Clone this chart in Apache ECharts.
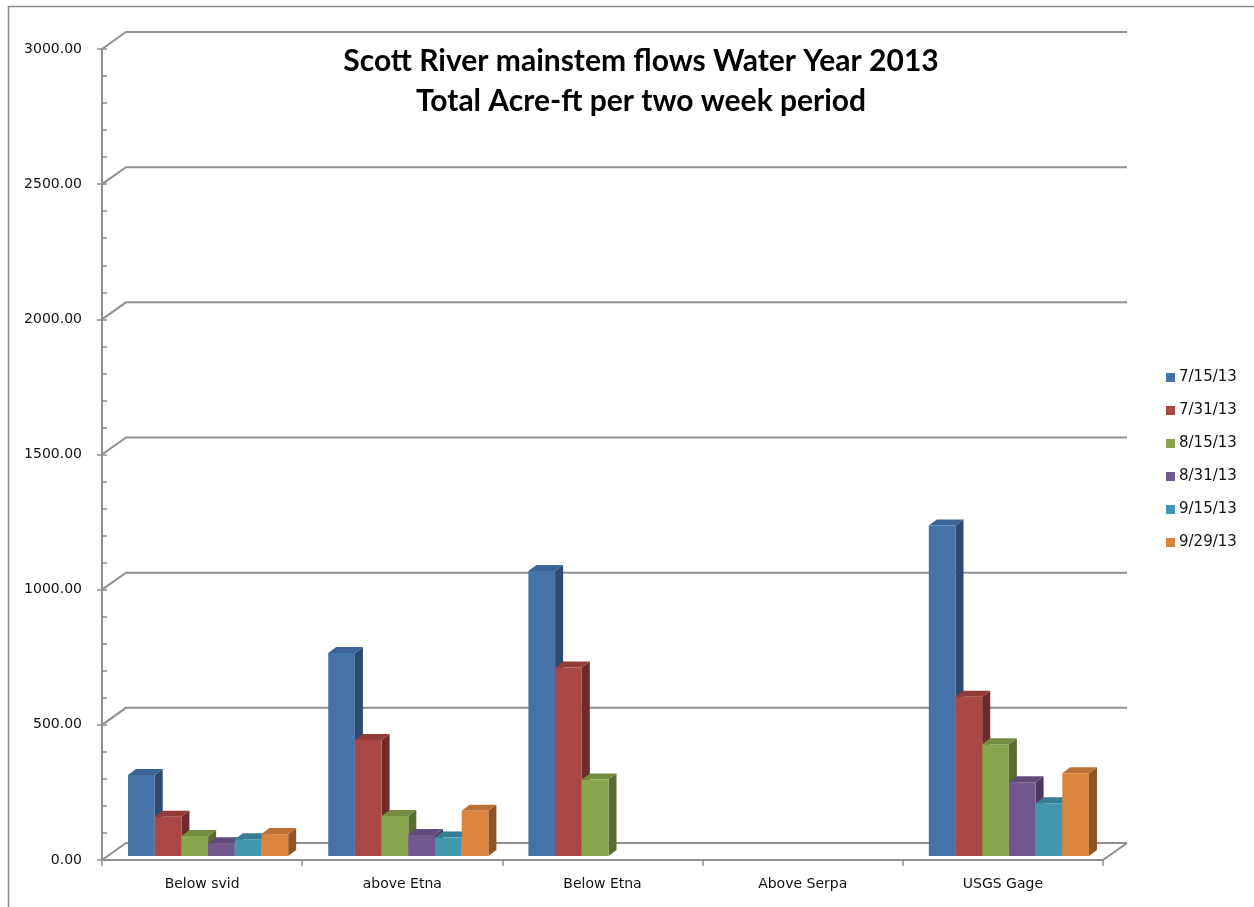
<!DOCTYPE html>
<html>
<head>
<meta charset="utf-8">
<title>Scott River mainstem flows Water Year 2013</title>
<script src="https://cdn.jsdelivr.net/npm/echarts@6/dist/echarts.min.js"></script>
<style>
  html, body { margin: 0; padding: 0; background: #ffffff; }
  #chart { width: 1254px; height: 907px; }
</style>
</head>
<body>
<div id="chart"></div>
<script>
// Monitoring sites along the mainstem
const categories = ['Below svid', 'above Etna', 'Below Etna', 'Above Serpa', 'USGS Gage'];
// Two-week period end dates
const periods = ['7/15/13', '7/31/13', '8/15/13', '8/31/13', '9/15/13', '9/29/13'];

// Total acre-feet per site for each period (null = no record)
const flow_0715 = [300, 751, 1054, null, 1223];
const flow_0731 = [145, 429, 697, null, 589];
const flow_0815 = [74, 148, 283, null, 413];
const flow_0831 = [47, 78, null, null, 273];
const flow_0915 = [62, 68, null, null, 195];
const flow_0929 = [81, 167, null, null, 306];

// Value axis ticks
const yTicks = [0, 500, 1000, 1500, 2000, 2500, 3000];

const seriesValues = [flow_0715, flow_0731, flow_0815, flow_0831, flow_0915, flow_0929];

// Face colours: front, side, top
const palette = [
  { front: '#4572A7', side: '#2E4A70', top: '#3B6395' },
  { front: '#AA4643', side: '#6D2B2A', top: '#943C39' },
  { front: '#89A54E', side: '#586B31', top: '#738C41' },
  { front: '#71588F', side: '#4A395E', top: '#5F4A7A' },
  { front: '#4198AF', side: '#296272', top: '#367F93' },
  { front: '#DB843D', side: '#8E5527', top: '#BC7033' }
];

// 3D look: wall depth, bar plane offset, bar depth
const WALL_DX = 24, WALL_DY = -17;
const PLANE_DX = 6, PLANE_DY = -4;
const BAR_DX = 8, BAR_DY = -6;

function barRenderer(sIdx) {
  return function (params, api) {
    const cat = api.value(0);
    const v = api.value(1);
    if (v == null || isNaN(v)) return;
    const base = api.coord([cat, 0]);
    const top = api.coord([cat, v]);
    const band = api.size([1, 0])[0];
    const bw = band * 0.8 / periods.length;
    const xL = base[0] - band * 0.4 + sIdx * bw + PLANE_DX;
    const xR = xL + bw;
    const yB = base[1] + PLANE_DY;
    const yT = top[1] + PLANE_DY;
    const c = palette[sIdx];
    return {
      type: 'group',
      children: [
        { type: 'polygon', shape: { points: [[xR, yT], [xR + BAR_DX, yT + BAR_DY], [xR + BAR_DX, yB + BAR_DY], [xR, yB]] },
          style: { fill: c.side } },
        { type: 'polygon', shape: { points: [[xL, yT], [xR, yT], [xR + BAR_DX, yT + BAR_DY], [xL + BAR_DX, yT + BAR_DY]] },
          style: { fill: c.top } },
        { type: 'rect', shape: { x: xL, y: yT, width: bw, height: yB - yT },
          style: { fill: c.front } }
      ]
    };
  };
}

function wallRenderer(params, api) {
  const cs = params.coordSys;
  const v = api.value(1);
  const y = api.coord([0, v])[1];
  const x0 = cs.x, x1 = cs.x + cs.width;
  const children = [{
    type: 'polyline',
    shape: { points: [[x0, y], [x0 + WALL_DX, y + WALL_DY], [x1 + WALL_DX, y + WALL_DY]] },
    style: { stroke: '#8f8f8f', lineWidth: 2, fill: null }
  }];
  if (v === 0) {
    children.push({
      type: 'line',
      shape: { x1: x1, y1: y, x2: x1 + WALL_DX, y2: y + WALL_DY },
      style: { stroke: '#8f8f8f', lineWidth: 2 }
    });
  }
  return { type: 'group', children: children };
}

const series = [{
  type: 'custom',
  name: 'walls',
  silent: true,
  z: 1,
  renderItem: wallRenderer,
  data: yTicks.map(function (v) { return [0, v]; }),
  encode: { x: 0, y: 1 },
  tooltip: { show: false }
}];

periods.forEach(function (p, i) {
  series.push({
    type: 'custom',
    name: p,
    z: 3,
    itemStyle: { color: palette[i].front },
    renderItem: barRenderer(i),
    data: seriesValues[i].map(function (v, ci) { return [ci, v]; }).filter(function (d) { return d[1] != null; }),
    encode: { x: 0, y: 1 }
  });
});

const axisFont = { fontFamily: 'DejaVu Sans', fontSize: 14, color: '#111111' };

const option = {
  backgroundColor: '#ffffff',
  animation: false,
  title: {
    text: 'Scott River mainstem flows Water Year 2013\nTotal Acre-ft per two week period',
    left: 636,
    top: 36,
    textAlign: 'center',
    textStyle: { fontFamily: 'Lato', fontWeight: 'bold', fontSize: 30, lineHeight: 40, color: '#000000' }
  },
  legend: {
    orient: 'vertical',
    left: 1161,
    top: 365,
    itemWidth: 9,
    itemHeight: 9,
    itemGap: 18,
    icon: 'rect',
    data: periods,
    textStyle: { fontFamily: 'DejaVu Sans', fontSize: 15, color: '#111111', padding: [0, 0, 0, -1] }
  },
  graphic: [{
    type: 'rect',
    silent: true,
    shape: { x: 8.5, y: 6.5, width: 1400, height: 1000 },
    style: { fill: null, stroke: '#8a8a8a', lineWidth: 1.5 }
  }],
  grid: { left: 102, right: 151, top: 49, bottom: 47 },
  xAxis: {
    type: 'category',
    data: categories,
    boundaryGap: true,
    axisLine: { lineStyle: { color: '#8f8f8f', width: 2 } },
    axisTick: { show: true, length: 6, lineStyle: { color: '#8f8f8f', width: 1.5 } },
    axisLabel: Object.assign({ margin: 17 }, axisFont),
    splitLine: { show: false }
  },
  yAxis: [{
    type: 'value',
    min: 0,
    max: 3000,
    interval: 500,
    axisLine: { show: true, lineStyle: { color: '#8f8f8f', width: 2 } },
    axisTick: { show: true, length: 5, lineStyle: { color: '#8f8f8f', width: 1.5 } },
    axisLabel: Object.assign({ margin: 20, formatter: function (v) { return v.toFixed(2); } }, axisFont),
    splitLine: { show: false }
  }, {
    type: 'value',
    position: 'left',
    min: 0,
    max: 3000,
    interval: 100,
    axisLine: { show: false },
    axisTick: { show: true, inside: true, length: 5, lineStyle: { color: '#8f8f8f', width: 1.5 } },
    axisLabel: { show: false },
    splitLine: { show: false }
  }],
  series: series
};

const chart = echarts.init(document.getElementById('chart'), null, { renderer: 'canvas' });
chart.setOption(option);
</script>
</body>
</html>
